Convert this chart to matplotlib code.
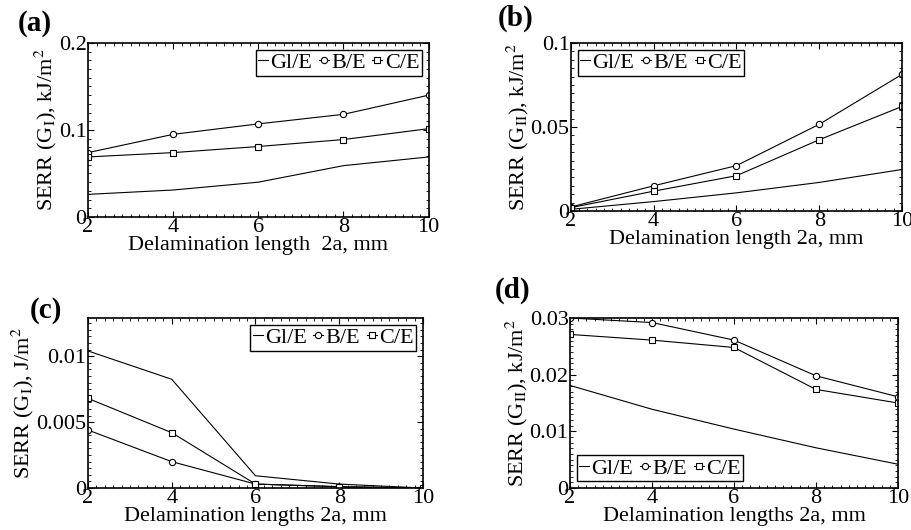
import numpy as np
import matplotlib.pyplot as plt
from matplotlib.ticker import MultipleLocator, FuncFormatter

plt.rcParams['font.family'] = ['Liberation Serif', 'DejaVu Serif']
plt.rcParams['mathtext.fontset'] = 'stix'
plt.rcParams['font.size'] = 16

x = [2, 4, 6, 8, 10]
names = ['Gl/E', 'B/E', 'C/E']

# (a) mode I, kJ/m2
a_gl = [0.026, 0.031, 0.040, 0.059, 0.069]
a_b = [0.074, 0.095, 0.107, 0.118, 0.140]
a_c = [0.069, 0.074, 0.081, 0.089, 0.1015]
# (b) mode II, kJ/m2
b_gl = [0.001, 0.0056, 0.0108, 0.017, 0.0247]
b_b = [0.0024, 0.015, 0.027, 0.0516, 0.0813]
b_c = [0.002, 0.0118, 0.021, 0.0424, 0.0622]
# (c) mode I, J/m2
c_gl = [0.0104, 0.00825, 0.00093, 0.0003, 0.0]
c_b = [0.0044, 0.002, 0.0003, 0.0001, 0.0]
c_c = [0.0068, 0.0042, 0.0003, 0.0001, 0.0]
# (d) mode II, kJ/m2
d_gl = [0.0181, 0.0139, 0.0104, 0.0071, 0.0042]
d_b = [0.0300, 0.0292, 0.0261, 0.0198, 0.0161]
d_c = [0.0271, 0.0261, 0.0248, 0.0174, 0.0150]

fig = plt.figure(figsize=(9.12, 5.30), dpi=100)

panels = [
    ('(a)', [0.0965, 0.5906, 0.3735, 0.3283], a_gl, a_b, a_c, 0.2, 0.1, 0.01,
     r'SERR (G$_{\rm I}$), kJ/m$^2$', 'Delamination length  2a, mm', 'upper right', (0.019, 0.955)),
    ('(b)', [0.626, 0.6019, 0.363, 0.317], b_gl, b_b, b_c, 0.1, 0.05, 0.005,
     r'SERR (G$_{\rm II}$), kJ/m$^2$', 'Delamination length 2a, mm', 'upper left', (0.546, 0.965)),
    ('(c)', [0.0965, 0.0792, 0.3673, 0.3208], c_gl, c_b, c_c, 0.0129, 0.005, 0.0005,
     r'SERR (G$_{\rm I}$), J/m$^2$', 'Delamination lengths 2a, mm', 'upper right', (0.033, 0.415)),
    ('(d)', [0.625, 0.0792, 0.3596, 0.3208], d_gl, d_b, d_c, 0.03, 0.01, 0.001,
     r'SERR (G$_{\rm II}$), kJ/m$^2$', 'Delamination lengths 2a, mm', 'lower left', (0.543, 0.452)),
]

for tag, rect, gl, b, c, ymax, ymaj, ymin, ylab, xlab, loc, tpos in panels:
    ax = fig.add_axes(rect)
    ax.plot(x, gl, '-', color='k', lw=0.8, label=names[0])
    ax.plot(x, b, '-o', color='k', lw=0.8, ms=4.5, mfc='white', mew=0.8, label=names[1])
    ax.plot(x, c, '-s', color='k', lw=0.8, ms=4, mfc='white', mew=0.8, label=names[2])
    ax.set_xlim(2, 10)
    ax.set_ylim(0, ymax)
    ax.xaxis.set_major_locator(MultipleLocator(2))
    ax.xaxis.set_minor_locator(MultipleLocator(0.2))
    ax.yaxis.set_major_locator(MultipleLocator(ymaj))
    ax.yaxis.set_minor_locator(MultipleLocator(ymin))
    ax.tick_params(which='both', direction='in', top=True, right=True, pad=1, labelsize=16)
    ax.tick_params(which='major', length=4, width=0.8)
    ax.tick_params(which='minor', length=2, width=0.6)
    for s in ax.spines.values():
        s.set_linewidth(1.2)
    ax.xaxis.set_major_formatter(FuncFormatter(lambda v, p: '%d' % round(v)))
    ax.yaxis.set_major_formatter(FuncFormatter(lambda v, p: '%g' % round(v, 4)))
    ax.set_ylabel(ylab, fontsize=16, labelpad=0)
    ax.set_xlabel(xlab, fontsize=16, labelpad=-1)
    leg = ax.legend(loc=loc, ncol=3, handlelength=0.45, handletextpad=0.1,
                    columnspacing=0.3, borderpad=0.12, borderaxespad=0.3,
                    fontsize=16, fancybox=False, edgecolor='k', framealpha=1)
    leg.get_frame().set_linewidth(1.0)
    fig.text(tpos[0], tpos[1], tag, fontsize=21, fontweight='bold', va='center')

fig.savefig('out.png', dpi=100)
